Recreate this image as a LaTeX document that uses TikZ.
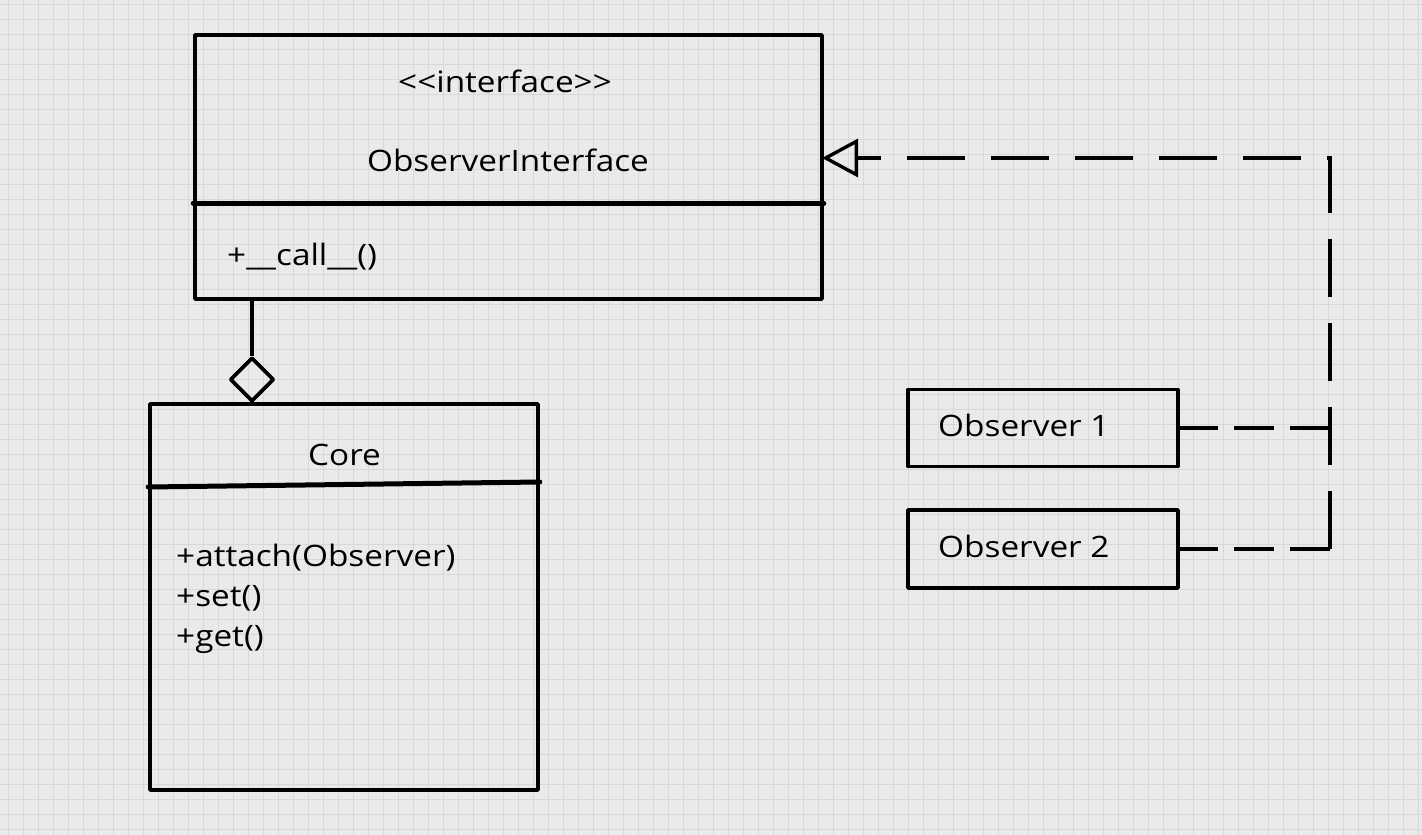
\documentclass[tikz,border=0pt]{standalone}
\usepackage{fontspec}
\setmainfont{Open Sans}[FakeStretch=1.13]
\usetikzlibrary{arrows.meta,shapes.geometric}
\definecolor{bg}{HTML}{EAEAEA}
\definecolor{gridc}{HTML}{D8D8D8}
\begin{document}
\begin{tikzpicture}[x=1pt,y=-1pt,
  box/.style={draw=black,line width=3.6pt,line join=round,inner sep=0pt},
  divider/.style={line width=5pt,line cap=round},
  lbl/.style={font=\fontsize{29.5}{34}\selectfont,inner sep=0pt,anchor=base},
  lblw/.style={lbl,anchor=base west},
  dashline/.style={line width=3.8pt,dash pattern=on 58pt off 26pt},
  shortdash/.style={line width=3.8pt,dash pattern=on 40pt off 16pt},
  realize/.style={-{Triangle[open,length=36pt,width=38pt,line width=3.4pt]}}]
\fill[bg] (0,0) rectangle (1422,835);
\useasboundingbox (0,0) rectangle (1422,835);
\foreach \x in {8,23,...,1418} \draw[gridc,line width=1pt] (\x,0) -- (\x,835);
\foreach \y in {4,19,...,834} \draw[gridc,line width=1pt] (0,\y) -- (1422,\y);

% interface class
\node[box,minimum width=627pt,minimum height=264pt] (iface) at (508.5,167) {};
\draw[divider] (iface.west |- 0,203) -- (iface.east |- 0,203);
\node[lbl] (stereo) at (505,92.7) {<\kern0pt<interface>\kern0pt>};
\node[lbl] (ifname) at (508,171.7) {ObserverInterface};
\node[lblw] (call) at (227,265) {+\_\_call\_\_()};

% core class
\node[box,minimum width=388pt,minimum height=386pt] (core) at (344,597) {};
\draw[divider] (core.west |- 0,487) -- (core.east |- 0,482);
\node[lbl] (corename) at (344.5,465) {Core};
\node[lblw] (m1) at (176,566.7) {+attach(Observer)};
\node[lblw] (m2) at (176,606) {+set()};
\node[lblw] (m3) at (176,646) {+get()};

% aggregation diamond
\node[box,shape=diamond,minimum width=44pt,minimum height=44pt] (dia) at (252,379.5) {};
\draw[line width=3.6pt] (dia.north) -- (dia.north |- iface.south);

% observers
\node[box,minimum width=270pt,minimum height=77pt] (obs1) at (1043,428) {};
\node[lblw] (o1) at (938,436.7) {Observer 1};
\node[box,minimum width=270pt,minimum height=78pt] (obs2) at (1043,549) {};
\node[lblw] (o2) at (938,557.7) {Observer 2};

% realization connectors
\coordinate (ah) at (822,158);
\coordinate (cr) at (1330,158);
\coordinate (j1) at (obs1.east -| cr);
\coordinate (j2) at (obs2.east -| cr);
\draw[dashline,realize] (j2) -- (cr) -- (ah);
\draw[shortdash] (j2) -- (obs2.east);
\draw[shortdash] (j1) -- (obs1.east);
\end{tikzpicture}
\end{document}
